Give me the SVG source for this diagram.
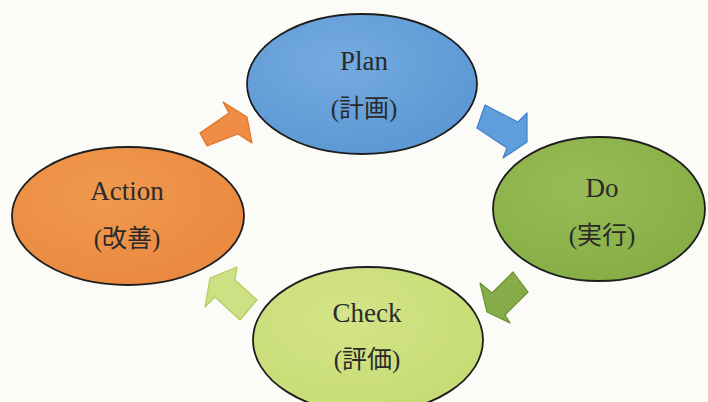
<svg xmlns="http://www.w3.org/2000/svg" width="708" height="402" viewBox="0 0 708 402">
<style>
.node ellipse{stroke:#1e1e1e;stroke-width:1.8}
.lbl{font-family:"Liberation Serif","Noto Sans CJK JP",serif;font-size:27px;fill:#2a2a2a;text-anchor:middle}
.jp{font-family:"Liberation Serif","Noto Sans CJK JP",serif;font-size:25px;fill:#2a2a2a;text-anchor:middle}
.arr{stroke-width:1.2;stroke-linejoin:round}
</style>
<defs>
<radialGradient id="gP" cx="0.4" cy="0.35" r="0.7"><stop offset="0" stop-color="#74abe0"/><stop offset="1" stop-color="#5b97d3"/></radialGradient>
<radialGradient id="gD" cx="0.4" cy="0.35" r="0.7"><stop offset="0" stop-color="#98bc55"/><stop offset="1" stop-color="#86ad45"/></radialGradient>
<radialGradient id="gA" cx="0.4" cy="0.35" r="0.7"><stop offset="0" stop-color="#f09a4e"/><stop offset="1" stop-color="#ea8840"/></radialGradient>
<radialGradient id="gC" cx="0.4" cy="0.35" r="0.7"><stop offset="0" stop-color="#d4e488"/><stop offset="1" stop-color="#c6db74"/></radialGradient>
</defs>
<rect width="708" height="402" fill="#fbfbf8"/>
<g id="connectors">
<polygon class="arr" points="200,133 229,113 223,102 247,117 252,143 238,134 207,146" fill="#ef8c45" stroke="#e07428"/>
<polygon class="arr" points="485,105 518,122 527,113 527,142 503,158 507,148 477,128" fill="#5f9ddb" stroke="#3f80c8"/>
<polygon class="arr" points="513,272 528,292 505,315 510,323 487,312 480,283 492,293" fill="#86ac4a" stroke="#6a9030"/>
<polygon class="arr" points="240,320 257,300 235,280 237,267 210,278 205,307 215,297" fill="#cde083" stroke="#b5cc5a"/>
</g>
<g id="plan" class="node">
<ellipse cx="362" cy="84" rx="115" ry="70" fill="url(#gP)"/>
<text class="lbl" x="364" y="70">Plan</text>
<text class="jp" x="364" y="117">(計画)</text>
</g>
<g id="do" class="node">
<ellipse cx="599" cy="209" rx="106" ry="72" fill="url(#gD)"/>
<text class="lbl" x="602" y="197">Do</text>
<text class="jp" x="602" y="244">(実行)</text>
</g>
<g id="check" class="node">
<ellipse cx="368" cy="340" rx="115" ry="73" fill="url(#gC)"/>
<text class="lbl" x="367" y="322">Check</text>
<text class="jp" x="367" y="368">(評価)</text>
</g>
<g id="action" class="node">
<ellipse cx="128" cy="216" rx="116" ry="69" fill="url(#gA)"/>
<text class="lbl" x="127" y="200">Action</text>
<text class="jp" x="127" y="247">(改善)</text>
</g>
</svg>
